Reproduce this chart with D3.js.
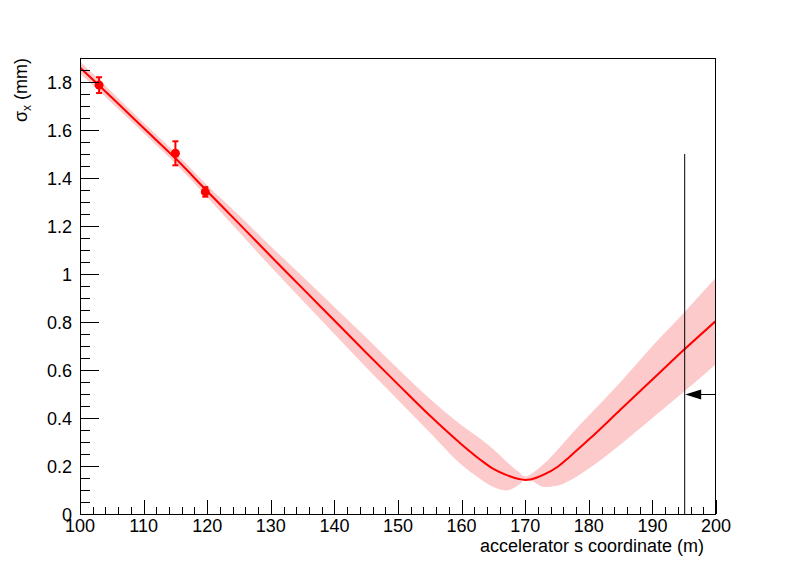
<!DOCTYPE html>
<html>
<head>
<meta charset="utf-8">
<script src="https://cdn.jsdelivr.net/npm/d3@7"></script>
<style>
  body { margin: 0; background: #fff; }
  svg { display: block; }
  text { font-family: "Liberation Sans", Arial, Helvetica, sans-serif; fill: #000; }
</style>
</head>
<body>
<script>
// ---- data ----
const sPos = [100,103,105,110,115,120,125,130,135,140,145,150,155,160,163,165,167,169,170,171,173,175,177,180,185,190,195,200];
const sigmaFit = [1.86,1.785,1.735,1.608,1.482,1.345,1.21,1.074,0.94,0.806,0.672,0.54,0.41,0.29,0.225,0.188,0.163,0.146,0.142,0.145,0.165,0.195,0.239,0.31,0.435,0.56,0.685,0.805];
const bandLow = [1.835,1.762,1.713,1.588,1.46,1.32,1.175,1.03,0.89,0.75,0.61,0.475,0.34,0.205,0.145,0.112,0.098,0.122,0.143,0.138,0.113,0.118,0.14,0.19,0.29,0.40,0.51,0.625];
const bandHigh = [1.885,1.81,1.758,1.63,1.505,1.37,1.245,1.115,0.99,0.862,0.735,0.605,0.48,0.37,0.312,0.27,0.22,0.175,0.155,0.168,0.21,0.265,0.325,0.41,0.55,0.70,0.84,0.985];
const measS = [103,115,119.7];
const measSigma = [1.787,1.503,1.342];
const measErr = [0.033,0.05,0.02];
const xTicks = [100,110,120,130,140,150,160,170,180,190,200];
const yTicks = [0,0.2,0.4,0.6,0.8,1,1.2,1.4,1.6,1.8];
const markerS = 195, markerTop = 1.5, arrowY = 0.5;

// ---- layout ----
const W = 796, H = 572;
const L = 80, R = 716, T = 58, B = 514;

const svg = d3.select("body").append("svg").attr("width", W).attr("height", H);
const x = d3.scaleLinear().domain([100, 200]).range([L, R]);
const y = d3.scaleLinear().domain([0, 1.9]).range([B, T]);

const defs = svg.append("defs");
defs.append("clipPath").attr("id", "frameclip").append("rect")
  .attr("x", L).attr("y", T).attr("width", R - L).attr("height", B - T);

const rows = sPos.map((s, i) => ({ s, v: sigmaFit[i], lo: bandLow[i], hi: bandHigh[i] }));

const g = svg.append("g").attr("clip-path", "url(#frameclip)");

// band
g.append("path").datum(rows)
  .attr("d", d3.area().x(d => x(d.s)).y0(d => y(d.lo)).y1(d => y(d.hi)).curve(d3.curveMonotoneX))
  .attr("fill", "#fccaca").attr("stroke", "none");

// fit line
g.append("path").datum(rows)
  .attr("d", d3.line().x(d => x(d.s)).y(d => y(d.v)).curve(d3.curveMonotoneX))
  .attr("fill", "none").attr("stroke", "#ff0000").attr("stroke-width", 2);

// measurements
const meas = measS.map((s, i) => ({ s, v: measSigma[i], e: measErr[i] }));
const mg = g.append("g").attr("stroke", "#ff0000").attr("stroke-width", 2);
meas.forEach(d => {
  mg.append("line").attr("x1", x(d.s)).attr("x2", x(d.s)).attr("y1", y(d.v - d.e)).attr("y2", y(d.v + d.e));
  mg.append("line").attr("x1", x(d.s) - 3).attr("x2", x(d.s) + 3).attr("y1", y(d.v + d.e)).attr("y2", y(d.v + d.e));
  mg.append("line").attr("x1", x(d.s) - 3).attr("x2", x(d.s) + 3).attr("y1", y(d.v - d.e)).attr("y2", y(d.v - d.e));
});
g.append("g").selectAll("circle").data(meas).join("circle")
  .attr("cx", d => x(d.s)).attr("cy", d => y(d.v)).attr("r", 4.5).attr("fill", "#ff0000");

// vertical marker line and arrow
svg.append("line").attr("x1", x(markerS) + 0.5).attr("x2", x(markerS) + 0.5)
  .attr("y1", y(0)).attr("y2", y(markerTop)).attr("stroke", "#000").attr("stroke-width", 1);
const ay = Math.round(y(arrowY)) + 0.5;
svg.append("line").attr("x1", x(markerS) + 10).attr("x2", x(200)).attr("y1", ay).attr("y2", ay)
  .attr("stroke", "#000").attr("stroke-width", 1);
const tipX = x(markerS) + 1;
svg.append("path")
  .attr("d", `M${tipX},${ay} L${tipX + 16},${ay - 5} L${tipX + 16},${ay + 5} Z`)
  .attr("fill", "#000");

// frame
svg.append("rect").attr("x", L + 0.5).attr("y", T + 0.5).attr("width", R - L - 1).attr("height", B - T)
  .attr("fill", "none").attr("stroke", "#000").attr("stroke-width", 1);

// x axis ticks (inside, upward)
const xAxisG = svg.append("g").attr("transform", `translate(0,${B})`);
const xMinor = d3.range(100, 200.001, 2);
xAxisG.selectAll("line.minor").data(xMinor).join("line")
  .attr("x1", d => Math.round(x(d)) + 0.5).attr("x2", d => Math.round(x(d)) + 0.5)
  .attr("y1", 0).attr("y2", d => (d % 10 === 0 ? -14 : -7))
  .attr("stroke", "#000");
xAxisG.selectAll("text").data(xTicks).join("text")
  .attr("x", d => x(d)).attr("y", 18).attr("text-anchor", "middle")
  .attr("font-size", 18).text(d => d);

// y axis ticks (inside, rightward)
const yAxisG = svg.append("g").attr("transform", `translate(${L},0)`);
const yMinor = d3.range(0, 1.9001, 0.05).map(v => Math.round(v * 100) / 100);
yAxisG.selectAll("line").data(yMinor).join("line")
  .attr("x1", 0).attr("x2", d => (Math.round(d * 100) % 20 === 0 ? 19 : 10))
  .attr("y1", d => Math.round(y(d)) + 0.5).attr("y2", d => Math.round(y(d)) + 0.5)
  .attr("stroke", "#000");
yAxisG.selectAll("text").data(yTicks).join("text")
  .attr("x", -8).attr("y", d => y(d) + 6.5).attr("text-anchor", "end")
  .attr("font-size", 18).text(d => d3.format("~g")(d));

// axis titles
svg.append("text").attr("x", 704).attr("y", 552).attr("text-anchor", "end")
  .attr("font-size", 18).text("accelerator s coordinate (m)");

const yt = svg.append("text").attr("transform", `translate(27,${T}) rotate(-90)`)
  .attr("text-anchor", "end").attr("font-size", 18);
yt.append("tspan").text("σ");
yt.append("tspan").attr("font-size", 12).attr("dy", 4).text("x");
yt.append("tspan").attr("dy", -4).text(" (mm)");
</script>
</body>
</html>
